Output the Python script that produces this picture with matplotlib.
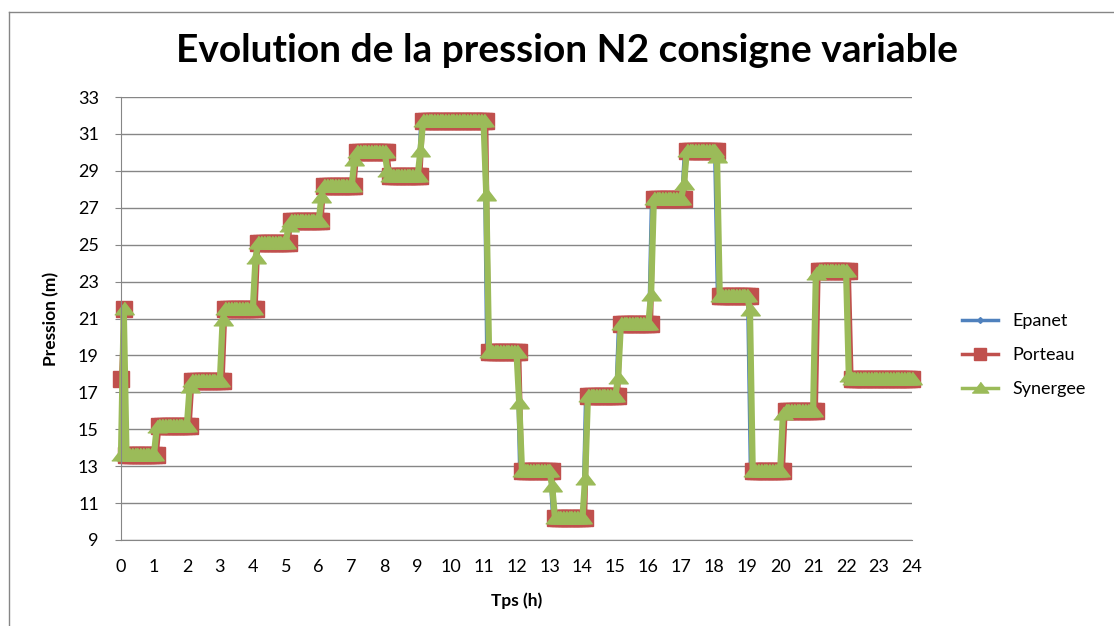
import numpy as np
import matplotlib
matplotlib.use("Agg")
import matplotlib.pyplot as plt
from matplotlib.lines import Line2D

plt.rcParams['font.family'] = ['Lato', 'DejaVu Sans']

# pas de temps de la simulation : 5 min (1/12 h)
dt = 1 / 12
x_ticks = list(range(0, 25))

# valeur initiale (t = 0)
start_epanet = 13.6
start_porteau = 17.7
start_synergee = 13.6

# pression au premier pas de chaque heure (t = h + 5 min)
trans_epanet = [21.5, 15.2, 17.6, 21.5, 25.1, 26.3, 28.2, 30.0, 28.7, 31.7, 31.7, 19.2,
                12.75, 10.2, 16.8, 20.7, 27.5, 30.1, 22.2, 12.75, 16.0, 23.6, 17.7, 17.7]
trans_porteau = [21.5, 13.6, 15.2, 17.6, 21.5, 25.1, 26.3, 28.2, 30.0, 28.7, 31.7, 31.7,
                 19.2, 12.75, 10.2, 16.8, 20.7, 27.5, 30.1, 22.2, 12.75, 16.0, 23.6, 17.7]
trans_synergee = [21.5, 15.1, 17.3, 20.9, 24.3, 26.0, 27.6, 29.6, 29.0, 30.05, 31.7, 27.7,
                  16.4, 11.9, 12.3, 17.8, 22.3, 28.3, 29.75, 21.45, 15.8, 23.4, 17.9, 17.7]

# palier de pression pour le reste de chaque heure
level_epanet = [13.6, 15.2, 17.6, 21.5, 25.1, 26.3, 28.2, 30.0, 28.7, 31.7, 31.7, 19.2,
                12.75, 10.2, 16.8, 20.7, 27.5, 30.1, 22.2, 12.75, 16.0, 23.6, 17.7, 17.7]
level_porteau = [13.6, 15.2, 17.6, 21.5, 25.1, 26.3, 28.2, 30.0, 28.7, 31.7, 31.7, 19.2,
                 12.75, 10.2, 16.8, 20.7, 27.5, 30.1, 22.2, 12.75, 16.0, 23.6, 17.7, 17.7]
level_synergee = [13.6, 15.2, 17.6, 21.5, 25.1, 26.3, 28.2, 30.0, 28.7, 31.7, 31.7, 19.2,
                  12.75, 10.2, 16.8, 20.7, 27.5, 30.1, 22.2, 12.75, 16.0, 23.6, 17.7, 17.7]


def serie(start, trans, level):
    vals = [start]
    for tr, lv in zip(trans, level):
        vals += [tr] + [lv] * 11
    return np.array(vals)


epanet = serie(start_epanet, trans_epanet, level_epanet)
porteau = serie(start_porteau, trans_porteau, level_porteau)
synergee = serie(start_synergee, trans_synergee, level_synergee)
tps = np.arange(len(epanet)) * dt

fig = plt.figure(figsize=(11.14, 6.26), dpi=100)
ax = fig.add_axes([121 / 1114, 1 - 540 / 626, (912 - 121) / 1114, (540 - 97) / 626])

tri = [(-1.0, -0.55), (1.0, -0.55), (0.0, 0.75)]
ax.plot(tps, epanet, color='#4F81BD', lw=1.8, marker='D', ms=3.5, label='Epanet', clip_on=False)
ax.plot(tps, porteau, color='#C0504D', lw=3.0, marker='s', ms=11, label='Porteau', clip_on=False)
ax.plot(tps, synergee, color='#9BBB59', lw=4.5, marker=tri, ms=14, label='Synergee', clip_on=False)

ax.set_xlim(0, 24)
ax.set_ylim(9, 33)
ax.set_xticks(x_ticks)
ax.set_yticks(range(9, 34, 2))
ax.yaxis.grid(True, color='#868686', lw=1)
ax.set_axisbelow(True)
for s in ['top', 'right']:
    ax.spines[s].set_visible(False)
ax.spines['left'].set_color('#868686')
ax.spines['bottom'].set_color('#868686')
ax.tick_params(axis='y', length=4, color='#868686', pad=12, labelsize=13)
ax.tick_params(axis='x', length=0, pad=14, labelsize=13)

ax.set_xlabel('Tps (h)', fontsize=12.5, fontweight='bold', labelpad=12)
ax.set_ylabel('Pression (m)', fontsize=12.5, fontweight='bold', labelpad=13)
fig.text(567 / 1114, 1 - 51 / 626, 'Evolution de la pression N2 consigne variable',
         ha='center', va='center', fontsize=28, fontweight='bold')

leg = ax.legend(loc='center left', bbox_to_anchor=(946 / 1114, 1 - 355 / 626),
                bbox_transform=fig.transFigure, frameon=False, fontsize=13,
                handlelength=2.0, labelspacing=1.0, markerscale=0.85)
for h in leg.legend_handles:
    h.set_linewidth(2.5)

# cadre de la zone de graphique
fig.add_artist(Line2D([9 / 1114, 9 / 1114], [0, 1 - 12 / 626], color='#868686', lw=1))
fig.add_artist(Line2D([9 / 1114, 1], [1 - 12 / 626, 1 - 12 / 626], color='#868686', lw=1))

fig.savefig('out.png', dpi=100)
